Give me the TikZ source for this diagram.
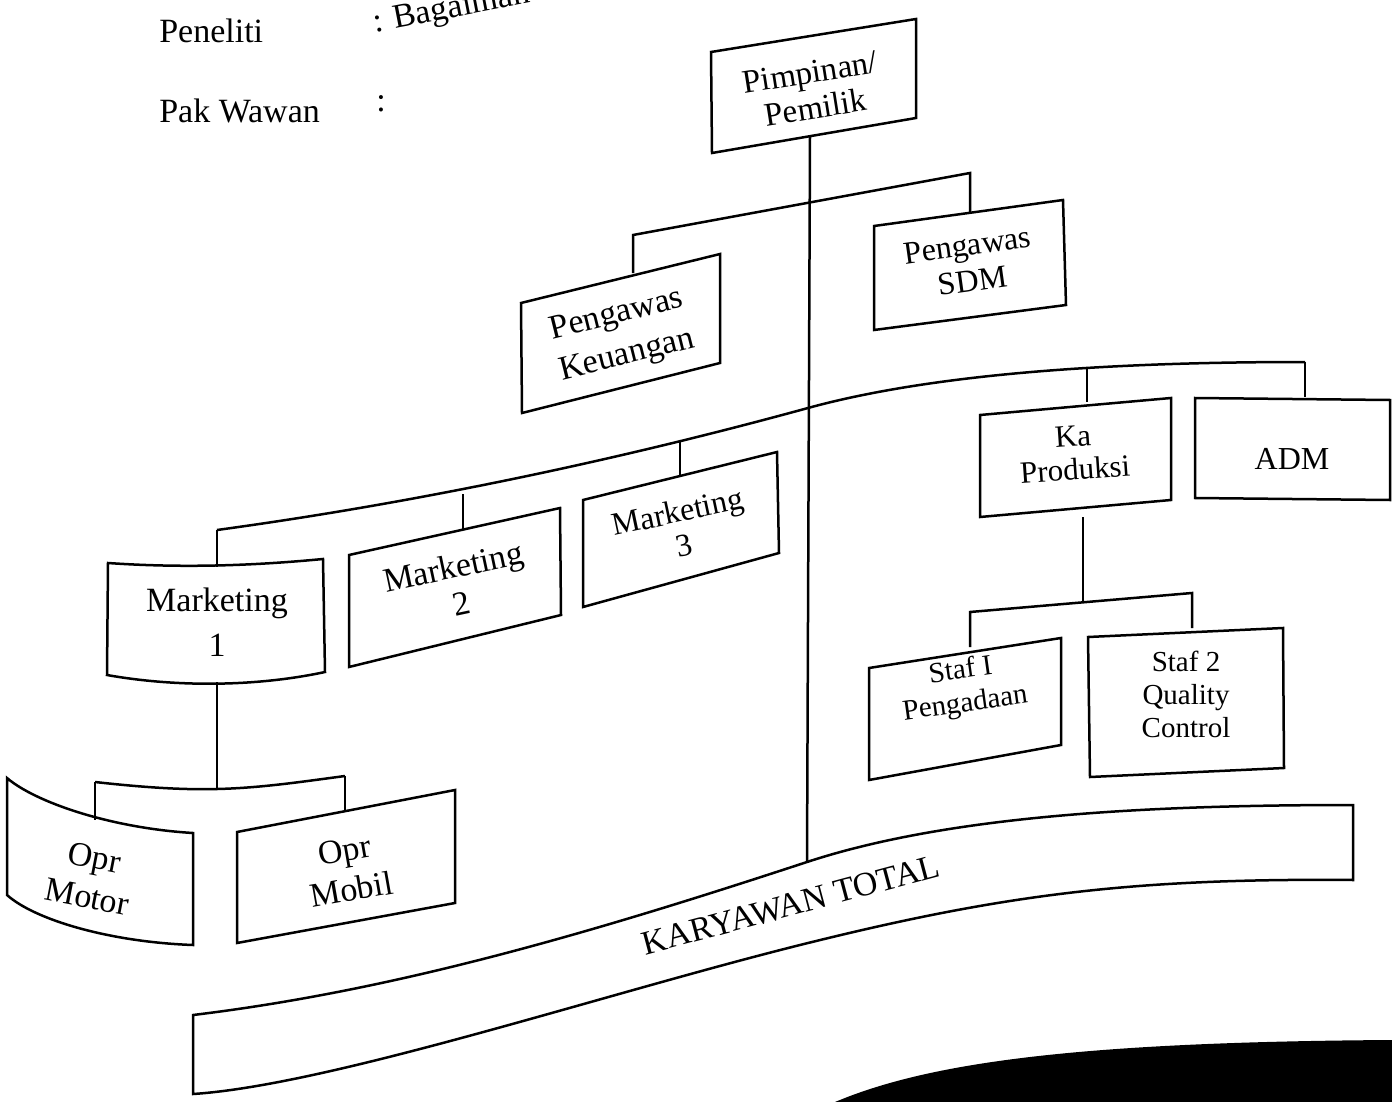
\documentclass[tikz,border=0pt]{standalone}
\usepackage{fontspec}
\setmainfont{Liberation Serif}
\begin{document}
\begin{tikzpicture}[x=1pt,y=-1pt,line width=2.5pt,line join=miter,
  box/.style={draw,line width=2.5pt},
  lbl/.style={font=\fontsize{34}{38}\selectfont,align=center,inner sep=0pt},
  mid/.style={font=\fontsize{32}{34}\selectfont,align=center,inner sep=0pt},
  sm/.style={font=\fontsize{29}{33}\selectfont,align=center,inner sep=0pt}]
\useasboundingbox (0,0) rectangle (1392,1102);
\clip (0,0) rectangle (1392,1102);

% heading
\node[lbl,anchor=base west] (pen) at (158,43) {Peneliti};
\node[lbl,anchor=base west] (wawan) at (158,123) {Pak Wawan};
\node[lbl,anchor=base west,rotate=11] (bag) at (374,33) {: Bagaiman};
\node[lbl,anchor=base west] (col2) at (375,112) {:};

% Pimpinan
\coordinate (p1) at (711,52); \coordinate (p2) at (916,19);
\coordinate (p3) at (916,118); \coordinate (p4) at (712,153);
\draw[box] (p1)--(p2)--(p3)--(p4)--cycle;
\node[lbl,rotate=9,font=\fontsize{33}{36}\selectfont] (pim) at (813,90) {Pimpinan/\\Pemilik};

% main vertical
\coordinate (pimB) at (810,136);
\coordinate (ktT) at (807,862);
\draw (pimB)--(ktT);

% bracket to Pengawas
\coordinate (b1L) at (633,235); \coordinate (b1R) at (970,173);
\coordinate (keuT) at (633,273); \coordinate (sdmT) at (970,214);
\draw (keuT)--(b1L)--(b1R)--(sdmT);

% Pengawas Keuangan
\coordinate (k1) at (521,303); \coordinate (k2) at (720,254);
\coordinate (k3) at (720,363); \coordinate (k4) at (522,413);
\draw[box] (k1)--(k2)--(k3)--(k4)--cycle;
\node[lbl,rotate=14,font=\fontsize{34}{42}\selectfont] (keu) at (622,336) {Pengawas\\Keuangan};

% Pengawas SDM
\coordinate (s1) at (874,226); \coordinate (s2) at (1063,200);
\coordinate (s3) at (1066,305); \coordinate (s4) at (874,330);
\draw[box] (s1)--(s2)--(s3)--(s4)--cycle;
\node[mid,rotate=8,font=\fontsize{32}{36}\selectfont] (sdm) at (970,263) {Pengawas\\SDM};

% long bracket
\coordinate (c1) at (217,530); \coordinate (c2) at (463,494);
\coordinate (c4) at (680,441); \coordinate (c5) at (808,408);
\coordinate (c7) at (1087,367); \coordinate (c8) at (1305,362);
\draw (c1) .. controls (400,505) and (600,465) .. (c5)
           .. controls (950,369) and (1150,362) .. (c8);
\coordinate (m1T) at (217,567); \coordinate (m2T) at (463,530);
\coordinate (m3T) at (680,476); \coordinate (kaT) at (1087,402);
\coordinate (admT) at (1305,397);
\draw (c1)--(m1T); \draw (c2)--(m2T); \draw (c4)--(m3T);
\draw (c7)--(kaT); \draw (c8)--(admT);

% Marketing 1
\draw[box] (108,563) .. controls (180,568) and (250,566) .. (323,559)
  -- (325,672) .. controls (260,686) and (180,688) .. (107,675) -- cycle;
\node[lbl,font=\fontsize{34}{45}\selectfont] (mk1) at (217,622) {Marketing\\1};

% Marketing 2
\draw[box] (349,555)--(560,508)--(561,615)--(349,667)--cycle;
\node[lbl,rotate=12] (mk2) at (457,585) {Marketing\\2};

% Marketing 3
\draw[box] (583,500)--(777,452)--(779,553)--(583,607)--cycle;
\node[mid,rotate=12] (mk3) at (681,528) {Marketing\\3};

% Marketing 1 to Opr
\coordinate (m1B) at (217,682);
\coordinate (oL) at (95,782); \coordinate (oM) at (217,789); \coordinate (oR) at (345,776);
\coordinate (motT) at (95,820); \coordinate (mobT) at (345,812);
\draw (m1B)--(oM);
\draw (oL) .. controls (140,787) and (180,790) .. (oM) .. controls (260,788) and (300,782) .. (oR);
\draw (oL)--(motT); \draw (oR)--(mobT);

% Opr Motor
\draw[box] (7,778) .. controls (35,802) and (110,828) .. (193,833)
  -- (193,945) .. controls (110,942) and (35,920) .. (7,895) -- cycle;
\node[lbl,rotate=-11,font=\fontsize{34}{40}\selectfont] (motor) at (91,877) {Opr\\Motor};

% Opr Mobil
\draw[box] (237,832)--(455,790)--(455,903)--(237,943)--cycle;
\node[lbl,rotate=10,font=\fontsize{34}{40}\selectfont] (mobil) at (348,870) {Opr\\Mobil};

% Ka Produksi
\coordinate (q1) at (980,415); \coordinate (q2) at (1171,398);
\coordinate (q3) at (1171,500); \coordinate (q4) at (980,517);
\draw[box] (q1)--(q2)--(q3)--(q4)--cycle;
\node[mid,rotate=4,font=\fontsize{31}{33}\selectfont] (kap) at (1074,453) {Ka\\Produksi};

% ADM
\draw[box] (1195,398)--(1390,400)--(1390,500)--(1195,498)--cycle;
\node[mid] (adm) at (1292,459) {ADM};

% Ka Produksi to Staf
\coordinate (kaB) at (1083,517); \coordinate (sM) at (1083,602);
\coordinate (sL) at (970,612); \coordinate (sR) at (1192,593);
\coordinate (st1T) at (970,647); \coordinate (st2T) at (1192,628);
\draw (kaB)--(sM);
\draw (st1T)--(sL)--(sR)--(st2T);

% Staf 1
\draw[box] (869,668)--(1061,638)--(1061,745)--(869,780)--cycle;
\node[sm,rotate=8] (st1) at (963,688) {Staf I\\Pengadaan};

% Staf 2
\draw[box] (1088,637)--(1283,628)--(1284,768)--(1090,777)--cycle;
\node[sm] (st2) at (1186,694) {Staf 2\\Quality\\Control};

% Karyawan total band
\draw[box] (193,1015) .. controls (400,990) and (600,930) .. (807,862)
  .. controls (950,815) and (1150,805) .. (1353,805)
  -- (1353,880) .. controls (1130,878) and (1000,895) .. (800,945)
  .. controls (600,995) and (330,1085) .. (193,1094) -- cycle;
\node[lbl,rotate=15] (kt) at (791,905) {KARYAWAN TOTAL};

% black shape
\fill (835,1102) .. controls (930,1062) and (1080,1042) .. (1392,1040) -- (1392,1102) -- cycle;
\end{tikzpicture}
\end{document}
